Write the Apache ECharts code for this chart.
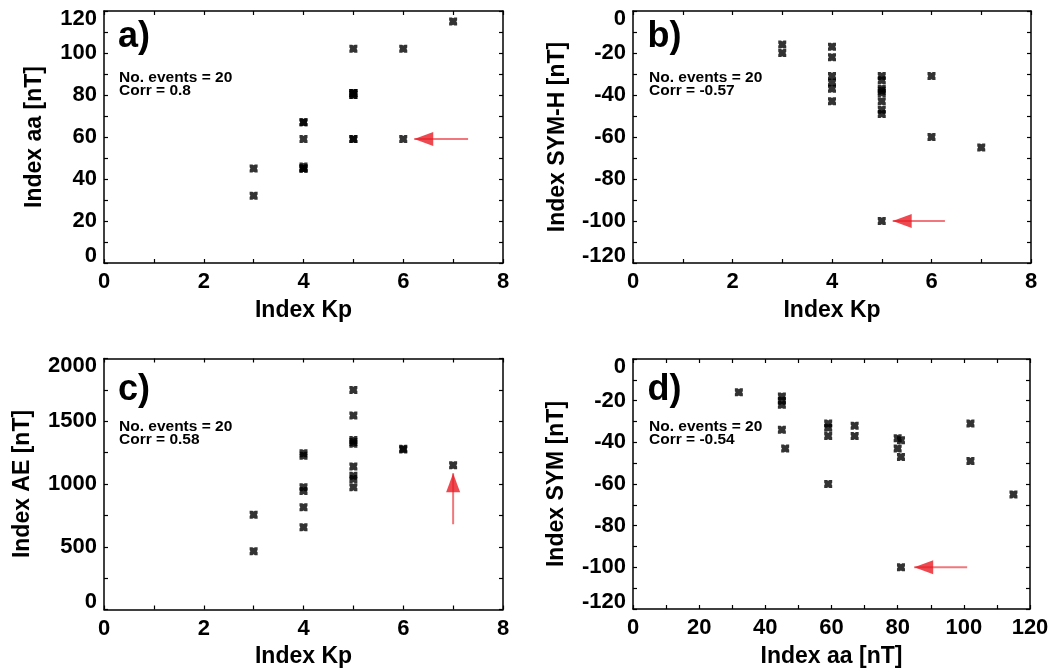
<!DOCTYPE html>
<html>
<head>
<meta charset="utf-8">
<script src="https://cdn.jsdelivr.net/npm/echarts@6/dist/echarts.min.js"></script>
<style>
html,body{margin:0;padding:0;background:#fff;}
#chart{width:1054px;height:671px;}
</style>
</head>
<body>
<div id="chart"></div>
<script>
// ---- Data ----
// Panel a: Kp vs aa
const kpA  = [3,3,4,4,4,4,4,4,4,5,5,5,5,5,5,5,5,6,6,7];
const aaA  = [32,45,45,45,45,46,59,67,67,59,59,80,80,81,81,81,102,59,102,115];
// Panel b: Kp vs SYM-H
const kpB  = [3,3,4,4,4,4,4,4,5,5,5,5,5,5,5,5,5,6,6,7];
const symB = [-16,-20,-17,-22,-31,-34,-37,-43,-31,-33,-37,-38,-39,-43,-47,-49,-100,-31,-60,-65];
// Panel c: Kp vs AE
const kpC  = [3,3,4,4,4,4,4,4,5,5,5,5,5,5,5,5,5,6,6,7];
const aeC  = [465,755,655,815,945,975,1225,1245,975,1040,1065,1140,1320,1335,1350,1545,1750,1275,1280,1150];
// Panel d: aa vs SYM
const aaD  = [32,45,45,45,45,46,59,59,59,59,67,67,80,80,81,81,81,102,102,115];
const symD = [-16,-18,-20,-22,-34,-43,-31,-33,-37,-60,-32,-37,-38,-43,-39,-47,-100,-31,-49,-65];

const panelLetters = ['a)','b)','c)','d)'];
const eventCounts  = [20,20,20,20];
const corrValues   = ['0.8','-0.57','0.58','-0.54'];
const xNames = ['Index Kp','Index Kp','Index Kp','Index aa [nT]'];
const yNames = ['Index aa [nT]','Index SYM-H [nT]','Index AE [nT]','Index SYM [nT]'];

// Red arrows: [tail, tip] in data coordinates
const arrowA = [[7.3,59],[6.22,59]];
const arrowB = [[6.27,-100],[5.22,-100]];
const arrowC = [[7,680],[7,1085]];
const arrowD = [[101,-100],[85,-100]];

// ---- Layout ----
const FONT = 'Liberation Sans, Arial, sans-serif';
const grids = [
  {left:104, top:11,    width:399, height:252},
  {left:633, top:11,    width:398, height:252},
  {left:104, top:358.5, width:399, height:251},
  {left:633, top:359,   width:397, height:250}
];
const xRanges = [[0,8,2],[0,8,2],[0,8,2],[0,120,20]];
const yRanges = [[0,120,20],[-120,0,20],[0,2000,500],[-120,0,20]];
const yGaps = [58, 64, 70, 65];

const tickStyle = {color:'#000', width:1.2};
function xAxisDef(i, pos){
  const r = xRanges[i];
  const main = pos === 'bottom';
  return {
    type:'value', gridIndex:i, position:pos, min:r[0], max:r[1], interval:r[2],
    name: main ? xNames[i] : '', nameLocation:'middle', nameGap:36,
    nameTextStyle:{fontSize:23, fontWeight:'bold', color:'#000', fontFamily:FONT},
    axisLine:{show:true, onZero:false, lineStyle:{color:'#000', width:1.5}},
    axisTick:{show:true, inside:true, length:4, lineStyle:tickStyle},
    minorTick:{show:true, splitNumber:2, length:4, lineStyle:tickStyle},
    axisLabel:{show:main, margin:8, fontSize:22, fontWeight:'bold', color:'#000', fontFamily:FONT,
               formatter:v=>String(v)},
    splitLine:{show:false}, minorSplitLine:{show:false}
  };
}
function yAxisDef(i, pos){
  const r = yRanges[i];
  const main = pos === 'left';
  return {
    type:'value', gridIndex:i, position:pos, min:r[0], max:r[1], interval:r[2],
    name: main ? yNames[i] : '', nameLocation:'middle', nameGap:yGaps[i],
    nameTextStyle:{fontSize:23, fontWeight:'bold', color:'#000', fontFamily:FONT},
    axisLine:{show:true, onZero:false, lineStyle:{color:'#000', width:1.5}},
    axisTick:{show:true, inside:true, length:4, lineStyle:tickStyle},
    minorTick:{show:true, splitNumber:2, length:4, lineStyle:tickStyle},
    axisLabel:{show:main, margin:7, fontSize:22, fontWeight:'bold', color:'#000', fontFamily:FONT,
               lineHeight:15, verticalAlignMinLabel:'bottom', verticalAlignMaxLabel:'top',
               formatter:v=>String(v)},
    splitLine:{show:false}, minorSplitLine:{show:false}
  };
}

const xAxes = [], yAxes = [];
for (let i=0;i<4;i++){
  xAxes.push(xAxisDef(i,'bottom'));
  yAxes.push(yAxisDef(i,'left'));
}
for (let i=0;i<4;i++){
  xAxes.push(xAxisDef(i,'top'));
  yAxes.push(yAxisDef(i,'right'));
}

const STAR = 'path://M0,0H3.5L5,1L6.5,0H10V3.5L9,5L10,6.5V10H6.5L5,9L3.5,10H0V6.5L1,5L0,3.5Z';
const HEAD_LEFT = 'path://M0,7L19,0L19,14Z';
const HEAD_UP = 'path://M7,0L14,19L0,19Z';

const xs = [kpA,kpB,kpC,aaD];
const ys = [aaA,symB,aeC,symD];
const arrows = [arrowA,arrowB,arrowC,arrowD];

const series = [];
for (let i=0;i<4;i++){
  const arr = arrows[i];
  const vertical = arr[0][0] === arr[1][0];
  series.push({
    type:'line', xAxisIndex:i, yAxisIndex:i, data:arr, symbol:'none', silent:true,
    lineStyle:{color:'#f2777c', width:2}, z:3, animation:false
  });
  series.push({
    type:'scatter', xAxisIndex:i, yAxisIndex:i, data:[arr[1]], silent:true,
    symbol: vertical ? HEAD_UP : HEAD_LEFT,
    symbolSize: vertical ? [14,19] : [19,14],
    symbolKeepAspect:false,
    symbolOffset: vertical ? [0,9.5] : [9.5,0],
    itemStyle:{color:'#e81c24'}, z:4, animation:false
  });
  series.push({
    type:'scatter', xAxisIndex:i, yAxisIndex:i,
    data: xs[i].map((v,k)=>[v, ys[i][k]]),
    symbol:STAR, symbolSize:8, itemStyle:{color:'#000'}, z:5, animation:false
  });
}

// Panel annotations
const labelPos = [[118,19,119,70.6],[647.5,19,649,70.6],[118,372.5,119,419.5],[647.5,372.5,649,419.5]];
const graphics = [];
for (let i=0;i<4;i++){
  const p = labelPos[i];
  graphics.push({type:'text', style:{x:p[0], y:p[1], text:panelLetters[i],
    fontSize:36, fontWeight:'bold', fontFamily:FONT, fill:'#000', verticalAlign:'top'}});
  graphics.push({type:'text', style:{x:p[2], y:p[3],
    text:'No. events = '+eventCounts[i]+'\nCorr = '+corrValues[i],
    fontSize:15.5, lineHeight:13.5, fontWeight:'bold', fontFamily:FONT, fill:'#000', verticalAlign:'top'}});
}

const chart = echarts.init(document.getElementById('chart'), null, {renderer:'canvas'});
chart.setOption({
  backgroundColor:'#fff',
  animation:false,
  grid:grids,
  xAxis:xAxes,
  yAxis:yAxes,
  series:series,
  graphic:graphics
});
</script>
</body>
</html>
